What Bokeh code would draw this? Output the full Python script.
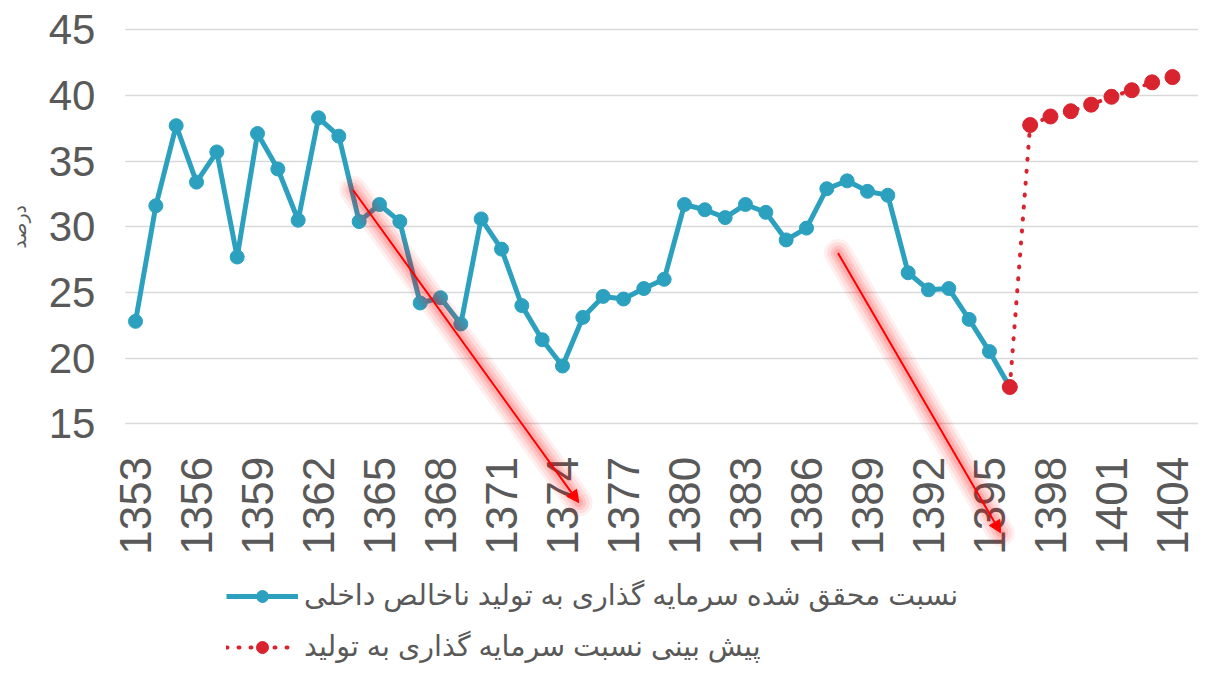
import math
from bokeh.plotting import figure
from bokeh.models import (Range1d, FixedTicker, Legend, LegendItem, Arrow, NormalHead,
                          BoxAnnotation, Label)
from bokeh.embed import file_html
from bokeh.resources import INLINE

# ---- data ----
actual_years = list(range(1353, 1397))
actual_values = [22.8, 31.6, 37.7, 33.4, 35.7, 27.7, 37.1, 34.4, 30.5, 38.3,
                 36.9, 30.4, 31.7, 30.4, 24.2, 24.6, 22.6, 30.6, 28.3, 24.0,
                 21.4, 19.4, 23.1, 24.7, 24.5, 25.3, 26.0, 31.7, 31.3, 30.7,
                 31.7, 31.1, 29.0, 29.9, 32.9, 33.5, 32.7, 32.4, 26.5, 25.2,
                 25.3, 22.95, 20.5, 17.8]
forecast_years = list(range(1396, 1405))
forecast_values = [17.8, 37.75, 38.4, 38.8, 39.3, 39.9, 40.4, 41.0, 41.4]
x_tick_years = list(range(1353, 1405, 3))
y_ticks = [15, 20, 25, 30, 35, 40, 45]

actual_label = "نسبت محقق شده سرمایه گذاری به تولید ناخالص داخلی"
forecast_label = "پیش بینی نسبت سرمایه گذاری به تولید"
y_label = "درصد"

# trend arrows (annotations, in data units)
arrow_x0 = [1363.7, 1387.55]
arrow_y0 = [32.8, 28.0]
arrow_x1 = [1374.8, 1395.55]
arrow_y1 = [9.0, 6.7]

BLUE = "#2CA1BF"
RED = "#D9232E"
GREY = "#595959"
FONT = "Liberation Sans, Arial, DejaVu Sans, sans-serif"

X_AXIS_AT = 15        # value where the year axis sits
Y_AXIS_AT = 1352.5    # left edge of the plotting area

p = figure(width=1198, height=665, output_backend="svg", toolbar_location=None,
           x_range=Range1d(1346.36, 1405.28), y_range=Range1d(-3.404, 47.231),
           min_border_left=0, min_border_right=0, min_border_top=0,
           min_border_bottom=0)
p.outline_line_color = None
p.background_fill_color = "white"
p.border_fill_color = "white"

p.xgrid.grid_line_color = None
p.ygrid.grid_line_color = "#D9D9D9"
p.ygrid.grid_line_width = 1.5
# keep the grid to the plotting area only
p.add_layout(BoxAnnotation(right=Y_AXIS_AT, level="underlay", fill_color="white",
                           fill_alpha=1, line_alpha=0))

p.xaxis.ticker = FixedTicker(ticks=x_tick_years)
p.yaxis.ticker = FixedTicker(ticks=y_ticks)
for ax in (p.xaxis[0], p.yaxis[0]):
    ax.axis_line_color = None
    ax.major_tick_line_color = None
    ax.minor_tick_line_color = None
    ax.major_label_text_color = GREY
    ax.major_label_text_font = FONT
p.xaxis.major_label_text_font_size = "44px"
p.yaxis.major_label_text_font_size = "42px"
p.xaxis.fixed_location = X_AXIS_AT
p.yaxis.fixed_location = Y_AXIS_AT
p.xaxis.major_label_orientation = math.pi / 2
p.xaxis.major_label_standoff = 27
p.yaxis.major_label_standoff = 24

p.add_layout(Label(x=19, y=30, x_units="screen", text=y_label, angle=math.pi / 2,
                   text_align="center", text_baseline="middle",
                   text_font=FONT, text_font_size="19px", text_color=GREY))

# series
l1 = p.line(actual_years, actual_values, line_color=BLUE, line_width=5, line_join="round")
m1 = p.scatter(actual_years[:-1], actual_values[:-1], size=14, fill_color=BLUE, line_color=BLUE)
l2 = p.line(forecast_years, forecast_values, line_color=RED, line_width=4,
            line_dash="1 11", line_cap="round")
m2 = p.scatter(forecast_years, forecast_values, size=15, fill_color=RED, line_color=RED)

# glowing trend arrows
for i in range(len(arrow_x0)):
    for w, a in [(28, 0.06), (22, 0.08), (15, 0.1), (9, 0.12)]:
        p.add_layout(Arrow(end=None, x_start=arrow_x0[i], y_start=arrow_y0[i],
                           x_end=arrow_x1[i], y_end=arrow_y1[i],
                           line_color="#FF0000", line_alpha=a, line_width=w,
                           line_cap="round"))
    p.add_layout(Arrow(end=NormalHead(size=12, fill_color="#FF0000", line_color="#FF0000"),
                       x_start=arrow_x0[i], y_start=arrow_y0[i],
                       x_end=arrow_x1[i], y_end=arrow_y1[i],
                       line_color="#FF0000", line_width=2))

legend = Legend(items=[LegendItem(label=actual_label, renderers=[l1, m1]),
                       LegendItem(label=forecast_label, renderers=[l2, m2])],
                location=(226, 2), orientation="vertical",
                padding=0, margin=0, spacing=18,
                glyph_width=72, glyph_height=30, label_height=30,
                label_standoff=6,
                label_text_font=FONT, label_text_font_size="28.5px",
                label_text_color=GREY,
                border_line_alpha=0, background_fill_alpha=0)
p.add_layout(legend)

open("out.html", "w").write(file_html(p, INLINE))
